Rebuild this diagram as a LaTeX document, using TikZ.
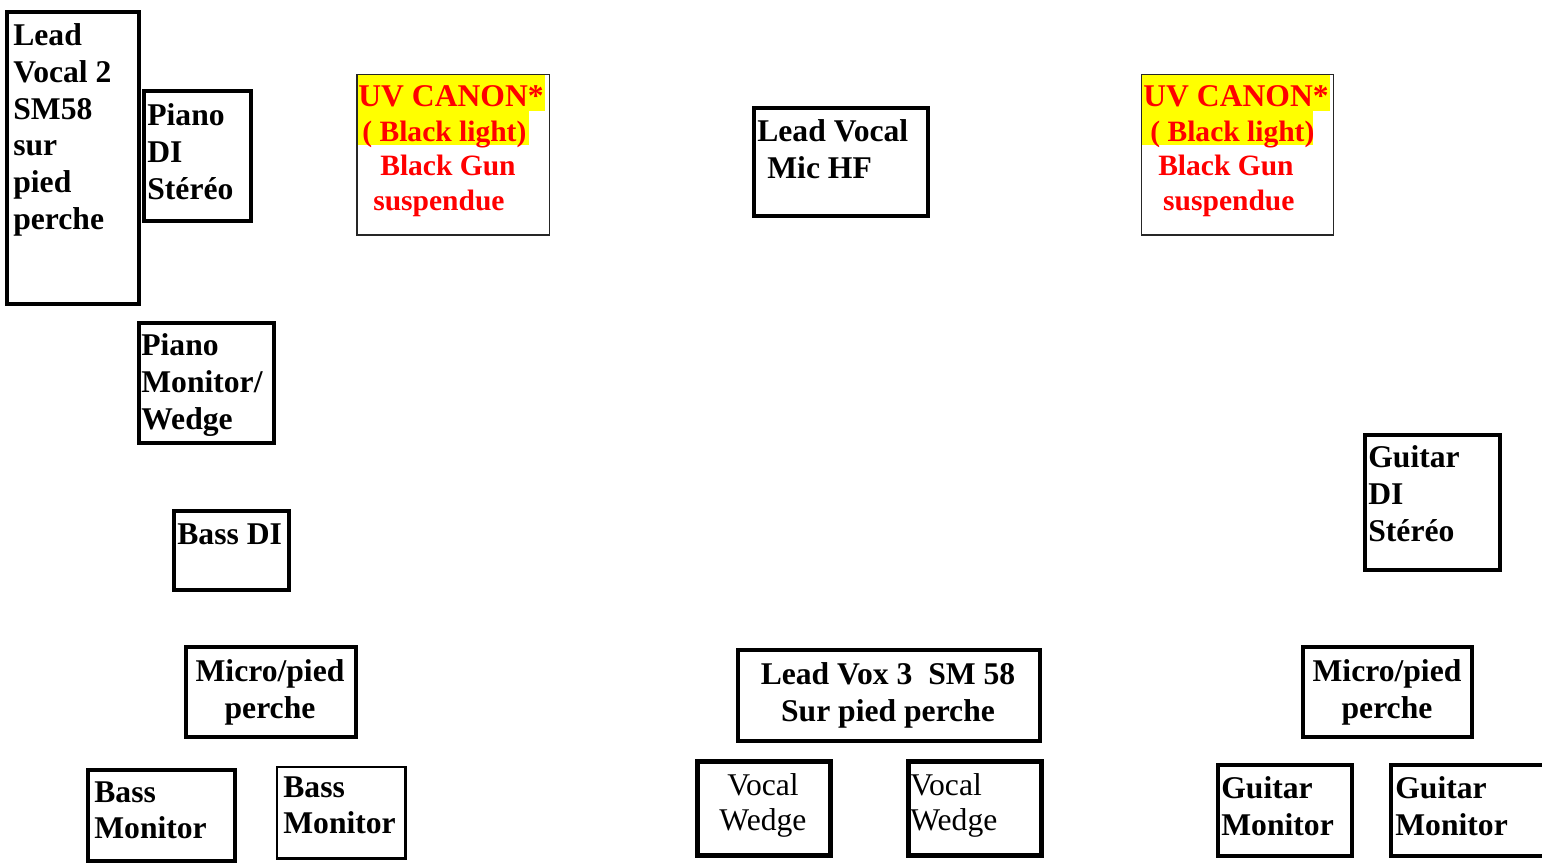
\documentclass[tikz,border=0pt]{standalone}
\usepackage{fontspec}
\setmainfont{Liberation Serif}
\usepackage{xcolor}
\definecolor{uvred}{HTML}{FF0000}
\definecolor{hlyel}{HTML}{FFFF00}
\usepackage{tikz}
\usetikzlibrary{positioning}
\newcommand{\uvsmall}{\fontsize{16.8}{19.8}\selectfont}

\begin{document}
\begin{tikzpicture}[
  x=0.02cm, y=-0.02cm,
  box/.style={draw, line width=0.08cm},
  wbox/.style={draw, line width=0.1cm},
  lightbox/.style={draw, line width=0.05cm},
  uvbox/.style={draw=black!85, line width=0.03cm},
  hl/.style={fill=hlyel},
  lbl/.style={anchor=north west, inner sep=0pt, align=left, font=\fontsize{18}{21}\selectfont\bfseries},
  clbl/.style={lbl, anchor=north, align=center},
  uvlbl/.style={lbl, text=uvred, font=\fontsize{18}{19.8}\selectfont\bfseries},
  wlbl/.style={lbl, font=\fontsize{18}{20}\selectfont},
]
  \useasboundingbox (0,0) rectangle (1542,866);
  \clip (0,0) rectangle (1542,866);

  % top row
  \draw[box] (7,12) rectangle (139,304);
  \node[lbl] (lv2) at (13,23) {Lead\\Vocal 2\\SM58\\sur\\pied\\perche};

  \draw[box] (144,90.5) rectangle (251,220.5);
  \node[lbl] (pdi) at (147,103) {Piano\\DI\\St\'er\'eo};

  \fill[hl] (357,75) rectangle (545,111);
  \fill[hl] (357,111) rectangle (529,145);
  \draw[uvbox] (357,74.5) rectangle (549.5,235);
  \node[uvlbl] (uvl) at (358,85) {UV CANON*\\\uvsmall\hspace*{2.3pt}( Black light)\\\uvsmall\hspace*{12.5pt}Black Gun\\\uvsmall\hspace*{8.5pt}suspendue};

  \draw[box] (754,107.5) rectangle (927.5,215.5);
  \node[lbl] (lvhf) at (757,119) {Lead Vocal\\\hspace*{5.7pt}Mic HF};

  \fill[hl] (1141.5,75) rectangle (1330,111);
  \fill[hl] (1141.5,111) rectangle (1313,145);
  \draw[uvbox] (1141.5,74.5) rectangle (1333.5,235);
  \node[uvlbl] (uvr) at (1143,85) {UV CANON*\\\uvsmall\hspace*{4pt}( Black light)\\\uvsmall\hspace*{8.5pt}Black Gun\\\uvsmall\hspace*{11.3pt}suspendue};

  % left side
  \draw[box] (139,322.5) rectangle (273.5,443);
  \node[lbl] (pmon) at (141,333) {Piano\\Monitor/\\Wedge};

  \draw[box] (174,510.5) rectangle (289,590);
  \node[lbl] (bdi) at (177,523) {Bass DI};

  % right side
  \draw[box] (1365,434.5) rectangle (1499.5,569.5);
  \node[lbl] (gdi) at (1368,445) {Guitar\\DI\\St\'er\'eo};

  % mic stands
  \draw[box] (185.5,646.5) rectangle (356,737);
  \node[clbl] (mpl) at (270,659) {Micro/pied\\perche};

  \draw[box] (737.5,649.5) rectangle (1040,741);
  \node[clbl] (lv3) at (888,662) {Lead Vox 3\ \ SM 58\\Sur pied perche};

  \draw[box] (1303,646.5) rectangle (1472,737);
  \node[clbl] (mpr) at (1387,659) {Micro/pied\\perche};

  % wedges
  \draw[box] (88,770) rectangle (235,861);
  \node[lbl] (bm1) at (94,781) {Bass\\Monitor};

  \draw[lightbox] (277,767) rectangle (405.5,858.5);
  \node[lbl] (bm2) at (283,776) {Bass\\Monitor};

  \draw[wbox] (697,761) rectangle (830.5,855);
  \node[wlbl, anchor=north, align=center] (vw1) at (763,773) {Vocal\\Wedge};

  \draw[wbox] (908.5,761) rectangle (1041.5,855);
  \node[wlbl] (vw2) at (910,773) {Vocal\\Wedge};

  \draw[box] (1218,764.5) rectangle (1351.5,855.5);
  \node[lbl] (gm1) at (1221,776) {Guitar\\Monitor};

  \draw[box] (1391,764.5) rectangle (1550,855.5);
  \node[lbl] (gm2) at (1395,776) {Guitar\\Monitor};
\end{tikzpicture}
\end{document}
